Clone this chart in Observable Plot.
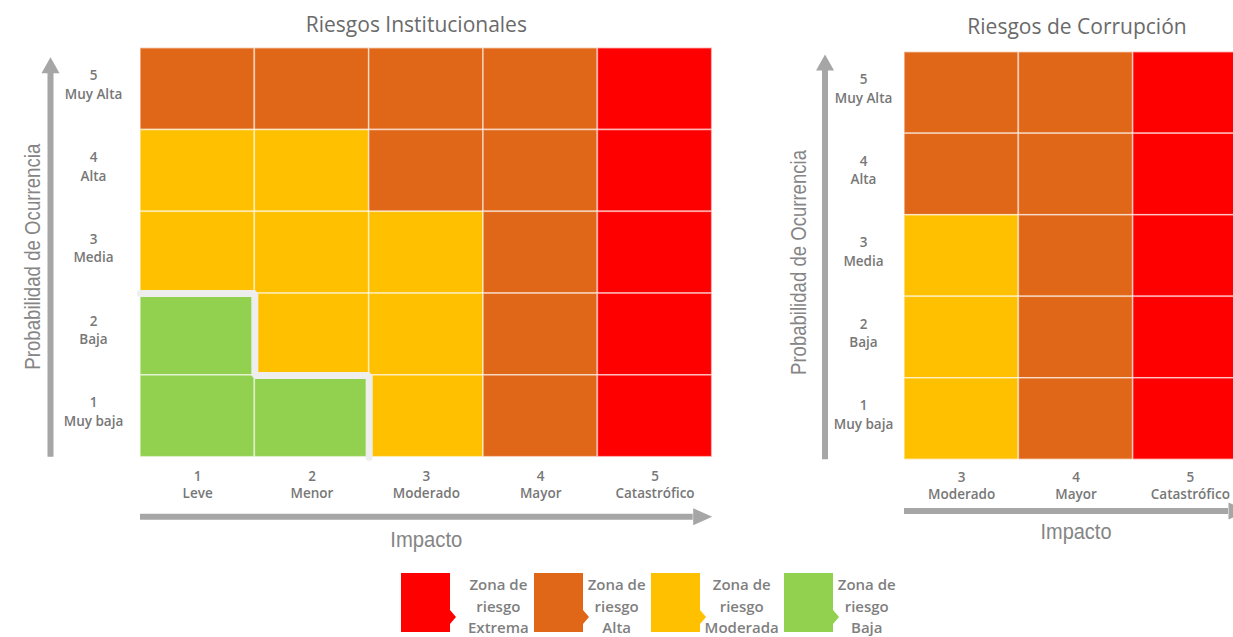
<!DOCTYPE html>
<html><head><meta charset="utf-8">
<script src="https://cdn.jsdelivr.net/npm/d3@7"></script>
<script src="https://cdn.jsdelivr.net/npm/@observablehq/plot@0.6"></script>
<style>
html,body{margin:0;padding:0;background:#fff;overflow:hidden;width:1233px;height:637px;position:relative;}
#left{position:absolute;left:0;top:0;width:760px;}
#right{position:absolute;left:760px;top:0;width:500px;}
#legend{position:absolute;left:401px;top:573px;display:flex;align-items:flex-start;font-family:"Open Sans",sans-serif;font-size:15px;font-weight:600;color:#7f7f7f;line-height:21.5px;}
.item{display:flex;align-items:flex-start;}
.item svg{display:block;margin-right:-7px;}
.txt{text-align:center;padding:0 5px;margin-top:1px;white-space:nowrap;}
.item:first-child .txt{padding-left:18px;}
</style></head><body>
<div id="left"></div><div id="right"></div><div id="legend"></div>
<script>
// ---- data ----
const probLevels = [1, 2, 3, 4, 5];
const probLabels = ["Muy baja", "Baja", "Media", "Alta", "Muy Alta"];
const impactLabels = ["Leve", "Menor", "Moderado", "Mayor", "Catastrófico"];
const zoneNames = ["Extrema", "Alta", "Moderada", "Baja"];
const zoneColors = ["#ff0000", "#e06618", "#ffc000", "#92d050"];

const institucionalImpacts = [1, 2, 3, 4, 5];
// rows: probability 5 -> 1 ; columns follow institucionalImpacts
const institucionalZones = [
  ["Alta", "Alta", "Alta", "Alta", "Extrema"],
  ["Moderada", "Moderada", "Alta", "Alta", "Extrema"],
  ["Moderada", "Moderada", "Moderada", "Alta", "Extrema"],
  ["Baja", "Moderada", "Moderada", "Alta", "Extrema"],
  ["Baja", "Baja", "Moderada", "Alta", "Extrema"]
];

const corrupcionImpacts = [3, 4, 5];
const corrupcionZones = [
  ["Alta", "Alta", "Extrema"],
  ["Alta", "Alta", "Extrema"],
  ["Moderada", "Alta", "Extrema"],
  ["Moderada", "Alta", "Extrema"],
  ["Moderada", "Alta", "Extrema"]
];

// ---- helpers ----
function toCells(impacts, zones) {
  const out = [];
  zones.forEach((row, r) => {
    const prob = probLevels[probLevels.length - 1 - r];
    row.forEach((zone, c) => out.push({impact: impacts[c], prob, zone}));
  });
  return out;
}
function boundary(cells, impacts, zone) {
  const pts = [];
  const used = impacts.filter(i => cells.some(d => d.impact === i && d.zone === zone));
  used.forEach(i => {
    const h = cells.filter(d => d.impact === i && d.zone === zone).length;
    pts.push({x: i - 0.5, y: h + 0.5}, {x: i + 0.5, y: h + 0.5});
  });
  if (used.length) pts.push({x: used[used.length - 1] + 0.5, y: 0.5});
  return pts;
}
const arrowUp = {draw(ctx) { ctx.moveTo(0, -16); ctx.lineTo(9, 0); ctx.lineTo(-9, 0); ctx.closePath(); }};
const arrowRight = {draw(ctx) { ctx.moveTo(19, 0); ctx.lineTo(0, -8.5); ctx.lineTo(0, 8.5); ctx.closePath(); }};

const GRAY = "#a6a6a6";
const TICK = {fontSize: 13.5, fontWeight: 600, fill: "#777", fontFamily: "Open Sans", textAnchor: "middle", lineAnchor: "middle"};
const AXT = {fontSize: 22, fill: "#858585", fontFamily: "'Liberation Sans', Arial, sans-serif", textAnchor: "middle", lineAnchor: "middle"};

function matrix(o) {
  const cells = toCells(o.impacts, o.zones);
  const xmin = o.impacts[0] - 0.5, xmax = o.impacts[o.impacts.length - 1] + 0.5;
  const marks = [
    Plot.rect(cells, {
      x1: d => d.impact - 0.5, x2: d => d.impact + 0.5,
      y1: d => d.prob - 0.5, y2: d => d.prob + 0.5,
      fill: "zone", stroke: "white", strokeOpacity: 0.55, strokeWidth: 1.6
    })
  ];
  const bd = boundary(cells, o.impacts, "Baja");
  if (bd.length) marks.push(Plot.line(bd, {x: "x", y: "y", stroke: "#eeeeee", strokeWidth: 7, strokeLinejoin: "miter", curve: "linear"}));
  marks.push(
    Plot.text([o.title], {frameAnchor: "top", dx: o.titleDx, dy: o.titleDy, textAnchor: "middle", lineAnchor: "bottom", fontSize: 21, fill: "#6a6a6a", fontFamily: "Open Sans"}),
    Plot.text(probLevels, {...TICK, y: d => d, frameAnchor: "left", dx: o.yLabDx, dy: -5.5, text: d => `${d}\n${probLabels[d - 1]}`, lineHeight: 1.38}),
    Plot.text(o.impacts, {...TICK, x: d => d, frameAnchor: "bottom", dy: o.xLabDy, text: d => `${d}\n${impactLabels[d - 1]}`, lineHeight: 1.3}),
    Plot.text(["Probabilidad de Ocurrencia"], {...AXT, frameAnchor: "left", dx: o.yTitleDx, dy: o.yTitleDy, rotate: -90}),
    Plot.text(["Impacto"], {...AXT, frameAnchor: "bottom", dy: o.xTitleDy}),
    Plot.ruleX([xmin], {y1: 5.5, y2: 0.5, dx: o.yArrowDx, insetTop: o.yHeadDy, stroke: GRAY, strokeWidth: 6}),
    Plot.dot([{x: xmin, y: 5.5}], {x: "x", y: "y", dx: o.yArrowDx, dy: o.yHeadDy, symbol: arrowUp, fill: GRAY, stroke: "none", r: 5}),
    Plot.ruleY([0.5], {x1: xmin, x2: xmax, dy: o.xArrowDy, insetRight: 19, stroke: GRAY, strokeWidth: 6}),
    Plot.dot([{x: xmax, y: 0.5}], {x: "x", y: "y", dx: -19, dy: o.xArrowDy, symbol: arrowRight, fill: GRAY, stroke: "none", r: 5})
  );
  const svg = Plot.plot({
    width: o.width, height: 560,
    marginLeft: o.ml, marginRight: o.mr, marginTop: o.mt, marginBottom: o.mb,
    x: {domain: [xmin, xmax], axis: null},
    y: {domain: [0.5, 5.5], axis: null},
    color: {domain: zoneNames, range: zoneColors},
    style: {background: "transparent", overflow: "visible", fontFamily: "Open Sans"},
    marks
  });
  // condensed look for the axis titles (narrow font)
  d3.select(svg).selectAll("text").each(function() {
    const t = this.textContent;
    if (t === "Probabilidad de Ocurrencia") d3.select(this).attr("textLength", o.yTitleLen).attr("lengthAdjust", "spacingAndGlyphs");
    if (t === "Impacto") d3.select(this).attr("textLength", o.xTitleLen).attr("lengthAdjust", "spacingAndGlyphs");
  });
  return svg;
}

document.getElementById("left").append(matrix({
  title: "Riesgos Institucionales", impacts: institucionalImpacts, zones: institucionalZones,
  width: 760, ml: 140, mr: 48.3, mt: 47.7, mb: 103.3,
  titleDx: -10, titleDy: -16, yLabDx: -47, xLabDy: 26.8, yTitleDx: -108, yTitleDy: 4, xTitleDy: 83,
  yArrowDx: -90, yHeadDy: 25, xArrowDy: 59.5, yTitleLen: 226, xTitleLen: 72
}));
document.getElementById("right").append(matrix({
  title: "Riesgos de Corrupción", impacts: corrupcionImpacts, zones: corrupcionZones,
  width: 500, ml: 144, mr: 13, mt: 51.7, mb: 100.7,
  titleDx: 1, titleDy: -18.7, yLabDx: -41, xLabDy: 25, yTitleDx: -106, yTitleDy: 6.5, xTitleDy: 72,
  yArrowDx: -79.5, yHeadDy: 18.3, xArrowDy: 51.2, yTitleLen: 225, xTitleLen: 71
}));

// ---- legend ----
const legend = d3.select("#legend");
zoneNames.forEach((name, i) => {
  const item = legend.append("div").attr("class", "item");
  const svg = item.append("svg").attr("width", 56).attr("height", 60);
  svg.append("polygon").attr("points", "0,0 49,0 49,37 55,44 49,51 49,59 0,59").attr("fill", zoneColors[i]);
  item.append("div").attr("class", "txt").html(`Zona de<br>riesgo<br>${name}`);
});
</script>
</body></html>
